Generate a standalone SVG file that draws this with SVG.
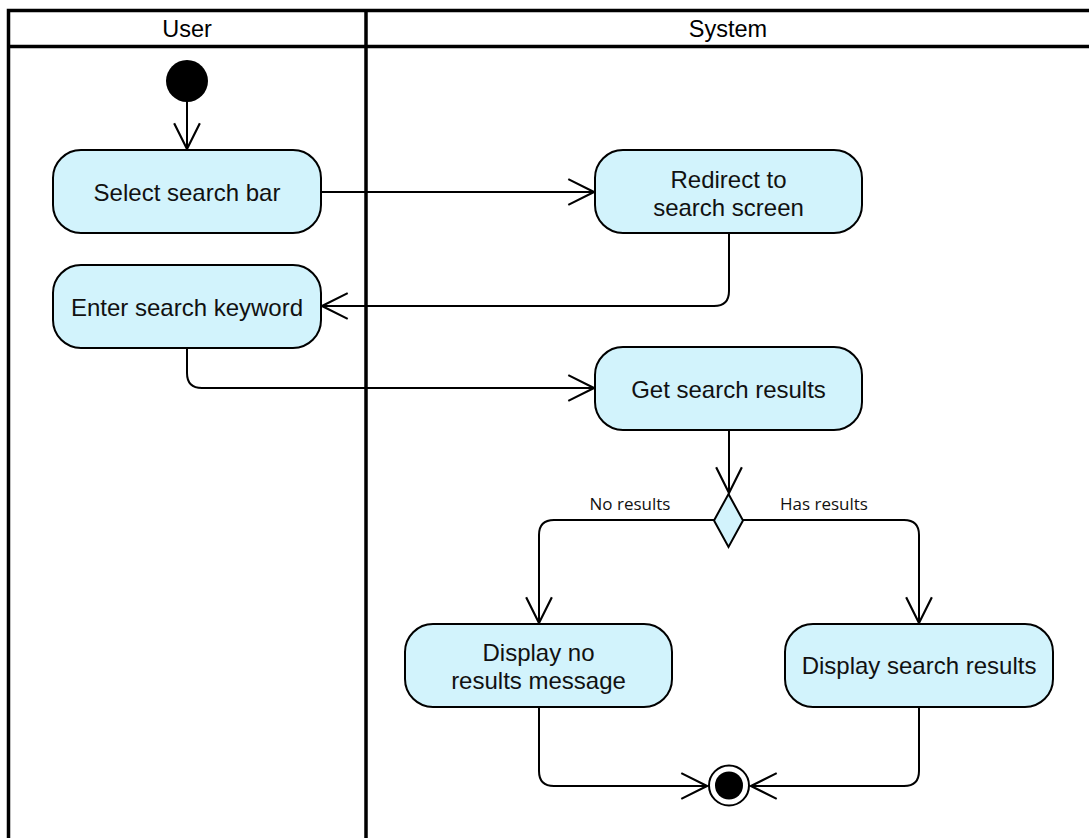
<svg xmlns="http://www.w3.org/2000/svg" width="1089" height="838" viewBox="0 0 1089 838">
  <defs>
    <marker id="open-arrow" markerUnits="userSpaceOnUse" markerWidth="30" markerHeight="30" viewBox="-26 -14 28 28" refX="0" refY="0" orient="auto">
      <path d="M-24,-12 L0,0 L-24,12" fill="none" stroke="#000" stroke-width="2"/>
    </marker>
    <style>
      .lane { fill: none; stroke: #000; stroke-width: 3.5; }
      .lane-title { font-family: "Liberation Sans", Arial, sans-serif; font-size: 23.5px; fill: #000; text-anchor: middle; }
      .action { fill: #d2f3fc; stroke: #000; stroke-width: 2; }
      .label { font-family: "Liberation Sans", Arial, sans-serif; font-size: 24px; fill: #111; text-anchor: middle; }
      .guard { font-family: "Open Sans", "Noto Sans", sans-serif; font-size: 17px; fill: #111; text-anchor: middle; }
      .flow { fill: none; stroke: #000; stroke-width: 2; marker-end: url(#open-arrow); }
    </style>
  </defs>
  <rect width="1089" height="838" fill="#fff"/>

  <!-- swimlanes -->
  <g id="lanes">
    <path class="lane" d="M8.5,850 V10.5 H1095 M8.5,46.5 H1095 M366,10 V850 M1092,10 V850"/>
    <text class="lane-title" x="187" y="37">User</text>
    <text class="lane-title" x="728" y="37">System</text>
  </g>

  <!-- connectors -->
  <g id="connectors">
    <path class="flow" d="M187,102 V149"/>
    <path class="flow" d="M321,192 H594"/>
    <path class="flow" d="M729,233 V291 Q729,306 714,306 H322"/>
    <path class="flow" d="M187,348 V373 Q187,388 202,388 H594"/>
    <path class="flow" d="M729,430 V493"/>
    <path class="flow" d="M714,520 H554 Q539,520 539,535 V623"/>
    <path class="flow" d="M743,520 H904 Q919,520 919,535 V623"/>
    <path class="flow" d="M539,707 V771 Q539,786 554,786 H707"/>
    <path class="flow" d="M919,707 V771 Q919,786 904,786 H751"/>
    <text class="guard" x="630" y="510">No results</text>
    <text class="guard" x="824" y="510">Has results</text>
  </g>

  <g id="start">
    <circle cx="187" cy="81" r="21" fill="#000"/>
  </g>

  <g id="select-search-bar">
    <rect class="action" x="53" y="150" width="268" height="83" rx="28"/>
    <text class="label" x="187" y="201">Select search bar</text>
  </g>

  <g id="redirect">
    <rect class="action" x="595" y="150" width="267" height="83" rx="28"/>
    <text class="label" x="728.5" y="188">Redirect to</text>
    <text class="label" x="728.5" y="216">search screen</text>
  </g>

  <g id="enter-keyword">
    <rect class="action" x="53" y="265" width="268" height="83" rx="28"/>
    <text class="label" x="187" y="316">Enter search keyword</text>
  </g>

  <g id="get-results">
    <rect class="action" x="595" y="347" width="267" height="83" rx="28"/>
    <text class="label" x="728.5" y="398">Get search results</text>
  </g>

  <g id="decision">
    <polygon class="action" points="728.5,494 743,520.5 728.5,547 714,520.5"/>
  </g>

  <g id="no-results">
    <rect class="action" x="405" y="624" width="267" height="83" rx="28"/>
    <text class="label" x="538.5" y="661">Display no</text>
    <text class="label" x="538.5" y="689">results message</text>
  </g>

  <g id="show-results">
    <rect class="action" x="785" y="624" width="268" height="83" rx="28"/>
    <text class="label" x="919" y="674">Display search results</text>
  </g>

  <g id="end">
    <circle cx="729" cy="785.5" r="20" fill="#fff" stroke="#000" stroke-width="2"/>
    <circle cx="729" cy="785.5" r="14" fill="#000"/>
  </g>
</svg>
